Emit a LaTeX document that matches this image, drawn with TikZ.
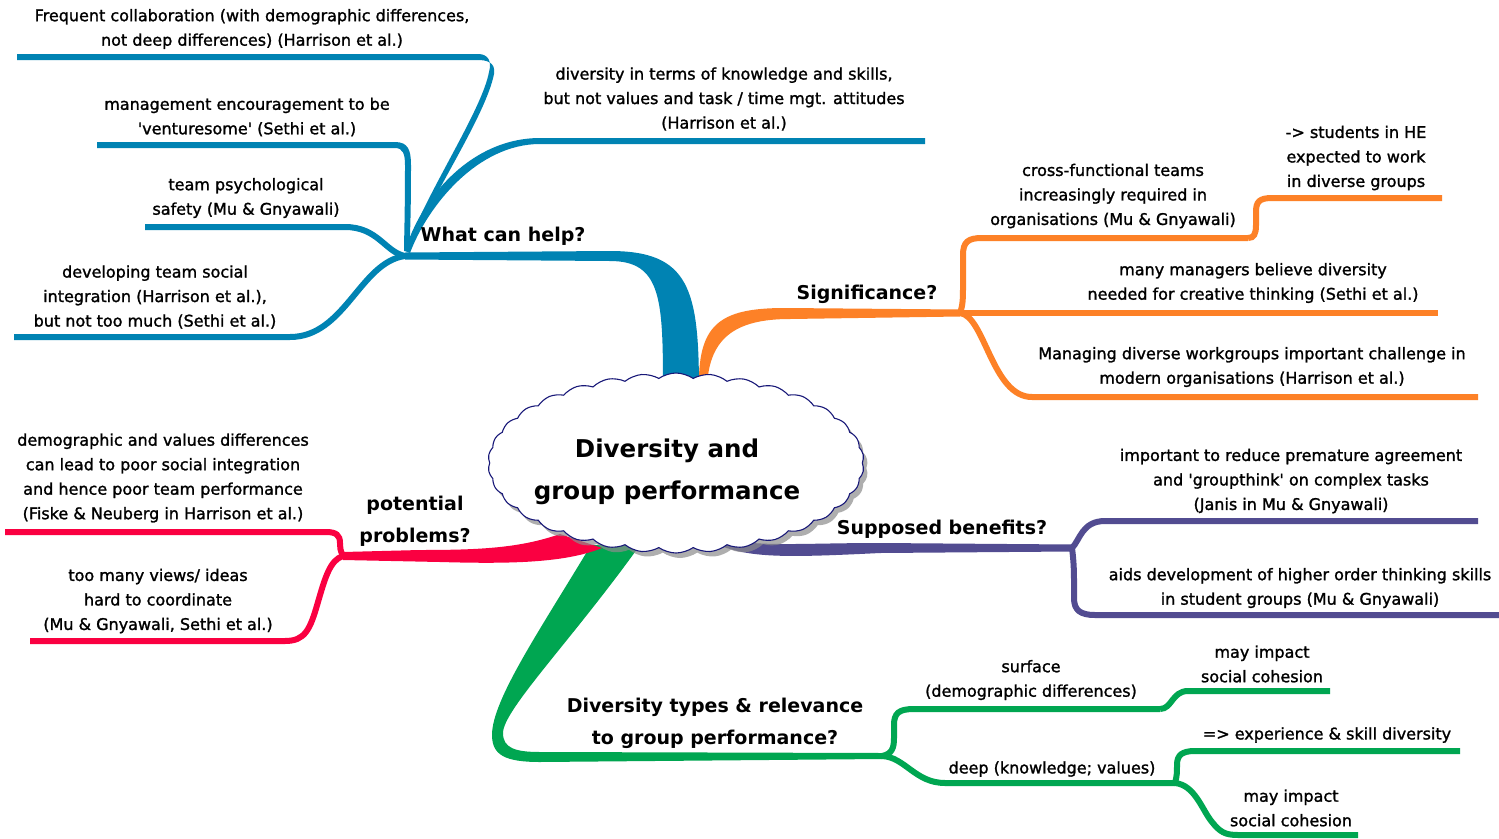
\documentclass[tikz,border=0pt]{standalone}
\usepackage{fontspec}
\setmainfont{DejaVu Sans}
\newfontfamily\leaffont[FakeBold=1.4]{DejaVu Sans}
\usepackage{tikz}
\usetikzlibrary{shapes.symbols,shadows,calc}

\definecolor{helpblue}{RGB}{0,131,179}
\definecolor{sigorange}{RGB}{253,129,39}
\definecolor{benpurple}{RGB}{82,76,145}
\definecolor{typegreen}{RGB}{0,166,81}
\definecolor{probred}{RGB}{250,0,65}
\definecolor{cloudnavy}{RGB}{24,24,120}

\begin{document}
\begin{tikzpicture}[
    x=1pt, y=-1pt,
    every node/.style={align=center, inner sep=0pt},
    leaf/.style={font=\leaffont\fontsize{16}{24.5}\selectfont},
    topic/.style={font=\bfseries\fontsize{19}{32}\selectfont},
    title/.style={font=\bfseries\fontsize{24.5}{42}\selectfont},
    twig/.style={line width=6pt},
    core cloud/.style={
        cloud, cloud puffs=34, cloud puff arc=70,
        draw=cloudnavy, line width=1.1pt, fill=white,
        minimum width=376pt, minimum height=180pt,
        drop shadow={shadow xshift=4pt, shadow yshift=-5pt,
            fill=black!45, opacity=0.7}
    }
]
\fill[white] (0,0) rectangle (1499,838);
\useasboundingbox (0,0) rectangle (1499,838);

\coordinate (hubHelp) at (405,256);
\coordinate (hubSig) at (960,313);
\coordinate (hubCross) at (1248,238);
\coordinate (hubBen) at (1072,548);
\coordinate (hubType) at (882,756);
\coordinate (hubSurf) at (1160,709);
\coordinate (hubDeep) at (1175,783);
\coordinate (hubProb) at (343,556);

% what can help
\fill[helpblue] (663,392) .. controls (663,300) and (662,261) .. (610,261)
    -- ($(hubHelp)+(0,3.5)$) -- ($(hubHelp)+(0,-3.5)$)
    -- (610,251) .. controls (690,251) and (699,290) .. (699,392) -- cycle;
\fill[helpblue] (406,249) .. controls (428,190) and (482,110) .. (489,72)
    .. controls (492,61) and (488,54) .. (478,54) -- (17,54) -- (17,60)
    -- (478,60) .. controls (486,60) and (496,62) .. (494,74)
    .. controls (486,115) and (432,195) .. (409,250) -- cycle;
\fill[helpblue] (97,142) -- (395,142) .. controls (408,142) and (411,150) .. (411,165)
    .. controls (411,215) and (410,240) .. (409,251) -- (404,251)
    .. controls (404,240) and (405,215) .. (405,165)
    .. controls (405,154) and (403,148) .. (395,148) -- (97,148) -- cycle;
\fill[helpblue] (405,251) .. controls (420,200) and (470,138) .. (540,138) -- (925,138)
    -- (925,144) -- (540,144) .. controls (478,144) and (428,205) .. (410,253) -- cycle;
\draw[helpblue, twig] (145,227) -- (345,227) .. controls (378,227) and (385,252) .. (hubHelp);
\draw[helpblue, twig] (14,337) -- (290,337) .. controls (345,337) and (360,262) .. (hubHelp);

% significance
\fill[sigorange] (699,392) .. controls (697,325) and (718,308) .. (785,308)
    -- ($(hubSig)+(0,-3.5)$) -- ($(hubSig)+(0,3.5)$)
    -- (790,319) .. controls (735,319) and (707,338) .. (707,392) -- cycle;
\draw[sigorange, twig] (hubSig) .. controls (963,305) and (963,298) .. (963,285)
    -- (963,255) .. controls (963,242) and (968,238) .. (982,238) -- (hubCross);
\draw[sigorange, twig] (hubCross) .. controls (1254,238) and (1256,234) .. (1256,225)
    -- (1256,212) .. controls (1256,202) and (1259,198) .. (1272,198) -- (1442,198);
\draw[sigorange, twig] (hubSig) -- (1438,313);
\draw[sigorange, twig] (hubSig) .. controls (985,316) and (992,397) .. (1032,397) -- (1478,397);

% supposed benefits
\fill[benpurple] (706,532) .. controls (740,549) and (790,543) .. (880,543)
    -- ($(hubBen)+(0,-3.5)$) -- ($(hubBen)+(0,3.5)$)
    -- (880,553) .. controls (780,558) and (745,558) .. (712,542) -- cycle;
\draw[benpurple, twig] (hubBen) .. controls (1080,540) and (1082,521) .. (1105,521) -- (1478,521);
\draw[benpurple, twig] (hubBen) .. controls (1073,556) and (1074,565) .. (1074,580)
    -- (1074,598) .. controls (1074,610) and (1080,615) .. (1095,615) -- (1499,615);

% diversity types
\fill[typegreen] (591,545) .. controls (540,630) and (492,700) .. (492,735)
    .. controls (492,755) and (505,762) .. (540,762)
    -- ($(hubType)+(0,3)$) -- ($(hubType)+(0,-3)$)
    -- (540,752) .. controls (515,752) and (503,748) .. (503,733)
    .. controls (503,710) and (572,640) .. (640,545) -- cycle;
\draw[typegreen, twig] (hubType) .. controls (892,754) and (894,748) .. (894,738)
    -- (894,725) .. controls (894,713) and (899,709) .. (914,709) -- (hubSurf);
\draw[typegreen, twig] (hubSurf) .. controls (1172,709) and (1172,691) .. (1188,691) -- (1330,691);
\draw[typegreen, twig] (hubType) .. controls (905,757) and (915,783) .. (945,783) -- (hubDeep);
\draw[typegreen, twig] (hubDeep) .. controls (1177,776) and (1177,772) .. (1177,765)
    .. controls (1177,755) and (1182,751) .. (1195,751) -- (1460,751);
\draw[typegreen, twig] (hubDeep) .. controls (1195,785) and (1202,810) .. (1212,822)
    .. controls (1220,832) and (1225,835) .. (1238,835) -- (1358,835);

% potential problems
\fill[probred] (560,534) .. controls (520,548) and (480,550) .. (420,550)
    -- ($(hubProb)+(0,-4)$) -- ($(hubProb)+(0,4)$)
    -- (440,562) .. controls (510,564) and (565,563) .. (602,548) -- cycle;
\draw[probred, twig] (hubProb) .. controls (340,550) and (340,547) .. (340,543)
    .. controls (340,535) and (336,532) .. (326,532) -- (5,532);
\draw[probred, twig] (hubProb) .. controls (330,560) and (325,578) .. (318,602)
    .. controls (310,630) and (305,641) .. (285,641) -- (30,641);

\node[core cloud] (core) at (676,463) {};
\node[title] (coreText) at (667,472) {Diversity and\\group performance};

\node[topic] (helpTopic) at (503,236) {What can help?};
\node[topic] (sigTopic) at (867,294) {Significance?};
\node[topic] (benTopic) at (942,529) {Supposed benefits?};
\node[topic] (typeTopic) at (715,723) {Diversity types \& relevance\\to group performance?};
\node[topic] (probTopic) at (415,521) {potential\\problems?};

\node[leaf] (freq) at (252,29) {Frequent collaboration (with demographic differences,\\not deep differences) (Harrison et al.)};
\node[leaf] (mgmt) at (247,117) {management encouragement to be\\\textquotesingle venturesome\textquotesingle{} (Sethi et al.)};
\node[leaf] (safety) at (246,198) {team psychological\\safety (Mu \& Gnyawali)};
\node[leaf] (integ) at (155,297) {developing team social\\integration (Harrison et al.),\\but not too much (Sethi et al.)};
\node[leaf] (skills) at (724,99) {diversity in terms of knowledge and skills,\\but not values and task / time mgt. attitudes\\(Harrison et al.)};

\node[leaf] (cross) at (1113,196) {cross-functional teams\\increasingly required in\\organisations (Mu \& Gnyawali)};
\node[leaf] (students) at (1356,158) {-> students in HE\\expected to work\\in diverse groups};
\node[leaf] (managers) at (1253,283) {many managers believe diversity\\needed for creative thinking (Sethi et al.)};
\node[leaf] (managing) at (1252,367) {Managing diverse workgroups important challenge in\\modern organisations (Harrison et al.)};

\node[leaf] (groupthink) at (1291,481) {important to reduce premature agreement\\and \textquotesingle groupthink\textquotesingle{} on complex tasks\\(Janis in Mu \& Gnyawali)};
\node[leaf] (higher) at (1300,588) {aids development of higher order thinking skills\\in student groups (Mu \& Gnyawali)};

\node[leaf] (surface) at (1031,680) {surface\\(demographic differences)};
\node[leaf] (cohesionA) at (1262,664) {may impact\\social cohesion};
\node[leaf] (deep) at (1052,769) {deep (knowledge; values)};
\node[leaf] (experience) at (1327,735) {=> experience \& skill diversity};
\node[leaf] (cohesionB) at (1291,808) {may impact\\social cohesion};

\node[leaf] (poorint) at (163,478) {demographic and values differences\\can lead to poor social integration\\and hence poor team performance\\(Fiske \& Neuberg in Harrison et al.)};
\node[leaf] (views) at (158,601) {too many views/ ideas\\hard to coordinate\\(Mu \& Gnyawali, Sethi et al.)};
\end{tikzpicture}
\end{document}
